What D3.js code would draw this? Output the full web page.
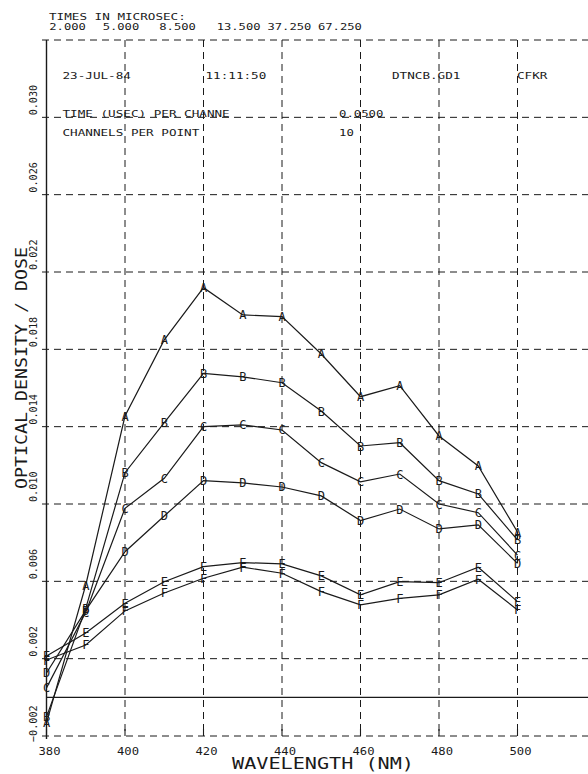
<!DOCTYPE html>
<html>
<head>
<meta charset="utf-8">
<script src="https://cdn.jsdelivr.net/npm/d3@7"></script>
<style>
  body { margin: 0; background: #fff; }
  text { font-family: "DejaVu Sans Mono", "Liberation Mono", monospace; fill: #1a1a1a; }
</style>
</head>
<body>
<svg id="chart" width="588" height="774"></svg>
<script>
// wavelengths (nm) and optical density / dose per time delay
var wavelengths = [380, 390, 400, 410, 420, 430, 440, 450, 460, 470, 480, 490, 500];
var seriesA = [-0.00132, 0.00581, 0.01455, 0.01849, 0.02119, 0.01978, 0.01969, 0.01776, 0.01555, 0.01612, 0.01352, 0.01197, 0.00855];
var seriesB = [-0.00101, 0.00460, 0.01162, 0.01421, 0.01676, 0.01658, 0.01627, 0.01481, 0.01300, 0.01317, 0.01121, 0.01052, 0.00814];
var seriesC = [0.00049, 0.00440, 0.00978, 0.01133, 0.01400, 0.01409, 0.01383, 0.01214, 0.01115, 0.01155, 0.01000, 0.00955, 0.00736];
var seriesD = [0.00126, 0.00450, 0.00753, 0.00938, 0.01121, 0.01109, 0.01088, 0.01042, 0.00914, 0.00974, 0.00871, 0.00892, 0.00693];
var seriesE = [0.00214, 0.00333, 0.00487, 0.00598, 0.00676, 0.00697, 0.00690, 0.00628, 0.00530, 0.00598, 0.00593, 0.00673, 0.00495];
var seriesF = [0.00193, 0.00271, 0.00447, 0.00540, 0.00616, 0.00673, 0.00642, 0.00547, 0.00478, 0.00512, 0.00530, 0.00611, 0.00452];
var seriesNames = ["A", "B", "C", "D", "E", "F"];
var timeLabels = ["2.000", "5.000", "8.500", "13.500", "37.250", "67.250"];
var xTicks = [380, 400, 420, 440, 460, 480, 500];
var yTicks = [-0.002, 0.002, 0.006, 0.010, 0.014, 0.018, 0.022, 0.026, 0.030];
var yTop = 0.034;

var series = [seriesA, seriesB, seriesC, seriesD, seriesE, seriesF];

var svg = d3.select("svg#chart");
var ink = "#1a1a1a";

var x = d3.scaleLinear().domain([380, 520]).range([46.5, 596]);
var y = d3.scaleLinear().domain([-0.002, yTop]).range([736, 40]);

// plotter-style text: stretched to a fixed character pitch
function ptext(g, px, py, str, size, pitch) {
  return g.append("text")
    .attr("x", px)
    .attr("y", py)
    .attr("font-size", size)
    .attr("textLength", str.length * pitch)
    .attr("lengthAdjust", "spacingAndGlyphs")
    .text(str);
}

// grid
var grid = svg.append("g")
  .attr("stroke", ink)
  .attr("stroke-width", 1)
  .attr("stroke-dasharray", "7,5");

grid.selectAll("line.h")
  .data(yTicks.concat([yTop]))
  .join("line")
  .attr("class", "h")
  .attr("x1", 42).attr("x2", 588)
  .attr("y1", d => y(d)).attr("y2", d => y(d));

grid.selectAll("line.v")
  .data(xTicks.slice(1))
  .join("line")
  .attr("class", "v")
  .attr("x1", d => x(d)).attr("x2", d => x(d))
  .attr("y1", y(yTop)).attr("y2", y(-0.002));

// axis, zero line, bottom ticks
svg.append("line")
  .attr("x1", x(380)).attr("x2", x(380))
  .attr("y1", y(yTop)).attr("y2", y(-0.002) + 3)
  .attr("stroke", ink).attr("stroke-width", 1.4);

svg.append("line")
  .attr("x1", x(380)).attr("x2", 588)
  .attr("y1", y(0)).attr("y2", y(0))
  .attr("stroke", ink).attr("stroke-width", 1.2);

svg.append("g").selectAll("line")
  .data(xTicks)
  .join("line")
  .attr("x1", d => x(d)).attr("x2", d => x(d))
  .attr("y1", y(-0.002) - 7).attr("y2", y(-0.002))
  .attr("stroke", ink).attr("stroke-width", 1.1);

// tick labels
var fmt = d3.format(".3f");
svg.append("g").selectAll("text")
  .data(yTicks)
  .join("text")
  .attr("transform", d => "translate(36.5," + (y(d) - 2 + (d < 0 ? 8 : 0)) + ") rotate(-90)")
  .attr("font-size", 11)
  .attr("textLength", d => fmt(d).length * 6.1)
  .attr("lengthAdjust", "spacingAndGlyphs")
  .text(d => fmt(d));

svg.append("g").selectAll("text")
  .data(xTicks)
  .join("text")
  .attr("x", d => x(d) + 3)
  .attr("y", 755)
  .attr("text-anchor", "middle")
  .attr("font-size", 10)
  .attr("textLength", 22)
  .attr("lengthAdjust", "spacingAndGlyphs")
  .text(d => d);

// axis titles
svg.append("text")
  .attr("x", 323).attr("y", 769)
  .attr("text-anchor", "middle")
  .attr("font-size", 16)
  .attr("textLength", 182)
  .attr("lengthAdjust", "spacingAndGlyphs")
  .text("WAVELENGTH (NM)");

svg.append("text")
  .attr("transform", "translate(27,368) rotate(-90)")
  .attr("text-anchor", "middle")
  .attr("font-size", 16.5)
  .attr("textLength", 242)
  .attr("lengthAdjust", "spacingAndGlyphs")
  .text("OPTICAL DENSITY / DOSE");

// header
var head = svg.append("g");
ptext(head, 49, 19.5, "TIMES IN MICROSEC:", 9, 7.6);
var timeX = [49.3, 102.7, 159.3, 216.7, 267.5, 318];
timeLabels.forEach(function (t, i) {
  ptext(head, timeX[i], 30, t, 9, 7.3);
});

ptext(head, 62.5, 79, "23-JUL-84", 9, 7.6);
ptext(head, 205.5, 79, "11:11:50", 9, 7.6);
ptext(head, 392, 79, "DTNCB.GD1", 9, 7.6);
ptext(head, 517, 79, "CFKR", 9, 7.6);
ptext(head, 62.5, 117, "TIME (USEC) PER CHANNE", 9, 7.6);
ptext(head, 339, 117, "0.0500", 9, 7.4);
ptext(head, 62.5, 135.5, "CHANNELS PER POINT", 9, 7.6);
ptext(head, 339, 135.5, "10", 9, 7.4);

// series lines and letter markers
var line = d3.line()
  .x((d, i) => x(wavelengths[i]))
  .y(d => y(d));

svg.append("g").selectAll("path")
  .data(series)
  .join("path")
  .attr("d", line)
  .attr("fill", "none")
  .attr("stroke", ink)
  .attr("stroke-width", 1.2);

var marks = svg.append("g").selectAll("g")
  .data(series)
  .join("g");

marks.selectAll("text")
  .data((s, k) => s.map((v, i) => ({ v: v, w: wavelengths[i], name: seriesNames[k] })))
  .join("text")
  .attr("x", d => x(d.w))
  .attr("y", d => y(d.v) + 4.5)
  .attr("text-anchor", "middle")
  .attr("font-size", 12)
  .text(d => d.name);
</script>
</body>
</html>
